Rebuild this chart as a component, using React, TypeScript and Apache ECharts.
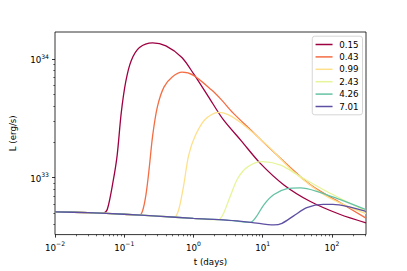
import React, { useEffect, useRef } from "react";
import * as echarts from "echarts";

// ---- data (t in days, L in erg/s) ----
const seriesNames = ["0.15", "0.43", "0.99", "2.43", "4.26", "7.01"];
const seriesColors = ["#9e0142", "#f46d43", "#fee08b", "#e6f598", "#66c2a5", "#5e4fa2"];

const t015 = [0.01, 0.03, 0.05, 0.057, 0.069, 0.079, 0.0905, 0.105, 0.126, 0.166, 0.257, 0.4, 0.68, 1.0, 1.64, 2.68, 4.9, 9.3, 20, 48, 129, 310];
const L015 = [5.14e32, 5.05e32, 5.01e32, 5.4e32, 9.27e32, 1.54e33, 3.51e33, 6.41e33, 9.68e33, 1.25e34, 1.37e34, 1.29e34, 1.03e34, 7.52e33, 4.82e33, 3.09e33, 2.04e33, 1.31e33, 8.71e32, 6.31e32, 4.9e32, 4.15e32];

const t043 = [0.01, 0.03, 0.1, 0.166, 0.185, 0.206, 0.229, 0.257, 0.302, 0.376, 0.493, 0.684, 1.0, 1.83, 2.54, 3.72, 6.76, 16.2, 48.3, 129, 310];
const L043 = [5.14e32, 5.05e32, 4.9e32, 4.81e32, 5.3e32, 7.18e32, 1.19e33, 2.25e33, 3.98e33, 5.82e33, 7.05e33, 7.74e33, 7.28e33, 5.47e33, 4.52e33, 3.51e33, 2.51e33, 1.54e33, 8.71e32, 6.17e32, 4.55e32];

const t099 = [0.01, 0.03, 0.1, 0.3, 0.53, 0.614, 0.724, 0.851, 1.06, 1.47, 2.28, 3.16, 4.9, 11.7, 28, 83, 310];
const L099 = [5.14e32, 5.05e32, 4.9e32, 4.73e32, 4.64e32, 5.4e32, 8.69e32, 1.54e33, 2.25e33, 3.09e33, 3.55e33, 3.4e33, 2.88e33, 1.86e33, 1.12e33, 6.97e32, 4.95e32];

const t243 = [0.01, 0.03, 0.1, 0.3, 1, 2.28, 2.68, 3.33, 4.37, 6.07, 9.9, 18.1, 34.8, 83, 310];
const L243 = [5.14e32, 5.05e32, 4.9e32, 4.73e32, 4.52e32, 4.41e32, 4.9e32, 6.76e32, 9.86e32, 1.23e33, 1.36e33, 1.27e33, 1.02e33, 7.66e32, 5.2e32];

const t426 = [0.01, 0.03, 0.1, 0.3, 1, 3, 6.6, 7.94, 10.5, 14.5, 22.5, 34.8, 60, 129, 310];
const L426 = [5.14e32, 5.05e32, 4.9e32, 4.73e32, 4.52e32, 4.37e32, 4.19e32, 4.61e32, 5.94e32, 7.18e32, 8.05e32, 8.17e32, 7.66e32, 6.53e32, 5.35e32];

const t701 = [0.01, 0.03, 0.1, 0.3, 1, 3, 6.76, 14.5, 19, 28, 43.3, 74.6, 103.5, 178, 310];
const L701 = [5.14e32, 5.05e32, 4.9e32, 4.73e32, 4.52e32, 4.37e32, 4.19e32, 3.98e32, 4.11e32, 4.75e32, 5.57e32, 5.94e32, 5.94e32, 5.65e32, 5.17e32];

const seriesT = [t015, t043, t099, t243, t426, t701];
const seriesL = [L015, L043, L099, L243, L426, L701];

// axis ranges and ticks
const xMin = 0.01;
const xMax = 310;
const yMin = 3.3e32;
const yMax = 1.69e34;
const xMajorExp = [-2, -1, 0, 1, 2];
const yMajorExp = [33, 34];
const minorMult = [2, 3, 4, 5, 6, 7, 8, 9];

const FONT = "DejaVu Sans";
const FS = 8.7;

function minorLogs(minV: number, maxV: number): number[] {
  const out: number[] = [];
  const lo = Math.floor(Math.log10(minV));
  const hi = Math.ceil(Math.log10(maxV));
  for (let e = lo; e <= hi; e++) {
    for (const m of minorMult) {
      const v = m * Math.pow(10, e);
      if (v >= minV && v <= maxV) out.push(Math.log10(v));
    }
  }
  return out;
}

const expLabel = (v: number) => {
  const e = Math.round(v);
  const s = e < 0 ? "\u2212" + Math.abs(e) : String(e);
  return "{b|10}{s|" + s + "}";
};

const rich = {
  b: { fontFamily: FONT, fontSize: FS, color: "#000", lineHeight: 11.5, verticalAlign: "bottom" },
  s: { fontFamily: FONT, fontSize: 6.1, color: "#000", lineHeight: 11.5, verticalAlign: "top" },
};

export default function App() {
  const ref = useRef<HTMLDivElement>(null);
  useEffect(() => {
    if (!ref.current) return;
    const chart = echarts.init(ref.current, null, { renderer: "svg" });
    const lxMin = Math.log10(xMin);
    const lxMax = Math.log10(xMax);
    const lyMin = Math.log10(yMin);
    const lyMax = Math.log10(yMax);
    const noLine = { show: false, onZero: false };
    const hidden = {
      axisLine: noLine,
      axisTick: { show: false },
      axisLabel: { show: false },
      splitLine: { show: false },
    };
    const tickLine = { color: "#000", width: 0.8 };
    const minorLine = { color: "#000", width: 0.6 };
    const option: any = {
      animation: false,
      backgroundColor: "#fff",
      grid: {
        left: 51,
        right: 41,
        top: 32,
        bottom: 34,
        show: true,
        borderColor: "#000",
        borderWidth: 0.8,
        backgroundColor: "transparent",
      },
      legend: {
        orient: "vertical",
        right: 44.5,
        top: 36.2,
        icon: "rect",
        itemWidth: 17,
        itemHeight: 1.5,
        itemGap: 2.4,
        padding: [3.3, 4, 3.3, 3.3],
        backgroundColor: "rgba(255,255,255,0.8)",
        borderColor: "#cccccc",
        borderWidth: 0.8,
        borderRadius: 2.5,
        textStyle: { fontFamily: FONT, fontSize: FS, color: "#000", lineHeight: 10, padding: [0, 0, 0, 1.6] },
        data: seriesNames,
      },
      xAxis: [
        { type: "log", min: xMin, max: xMax, ...hidden },
        {
          type: "value",
          min: lxMin,
          max: lxMax,
          position: "bottom",
          axisLine: noLine,
          splitLine: { show: false },
          axisTick: { show: true, length: 3, lineStyle: tickLine, customValues: xMajorExp },
          axisLabel: { show: true, margin: 6, customValues: xMajorExp, formatter: expLabel, rich },
          name: "t (days)",
          nameLocation: "middle",
          nameGap: 22,
          nameTextStyle: { fontFamily: FONT, fontSize: FS, color: "#000" },
        },
        {
          type: "value",
          min: lxMin,
          max: lxMax,
          position: "bottom",
          axisLine: noLine,
          splitLine: { show: false },
          axisLabel: { show: false },
          axisTick: { show: true, length: 1.7, lineStyle: minorLine, customValues: minorLogs(xMin, xMax) },
        },
      ],
      yAxis: [
        { type: "log", min: yMin, max: yMax, ...hidden },
        {
          type: "value",
          min: lyMin,
          max: lyMax,
          position: "left",
          axisLine: noLine,
          splitLine: { show: false },
          axisTick: { show: true, length: 3, lineStyle: tickLine, customValues: yMajorExp },
          axisLabel: { show: true, margin: 6, customValues: yMajorExp, formatter: expLabel, rich },
          name: "L (erg/s)",
          nameLocation: "middle",
          nameGap: 38,
          nameRotate: 90,
          nameTextStyle: { fontFamily: FONT, fontSize: FS, color: "#000" },
        },
        {
          type: "value",
          min: lyMin,
          max: lyMax,
          position: "left",
          axisLine: noLine,
          splitLine: { show: false },
          axisLabel: { show: false },
          axisTick: { show: true, length: 1.7, lineStyle: minorLine, customValues: minorLogs(yMin, yMax) },
        },
      ],
      series: seriesNames.map((name, i) => ({
        name,
        type: "line",
        xAxisIndex: 0,
        yAxisIndex: 0,
        showSymbol: false,
        symbol: "none",
        smooth: 0.3,
        color: seriesColors[i],
        lineStyle: { color: seriesColors[i], width: 1.3 },
        data: seriesT[i].map((t, j) => [t, seriesL[i][j]]),
      })),
    };
    chart.setOption(option);
    return () => chart.dispose();
  }, []);
  return (
    <div
      ref={ref}
      style={{ position: "absolute", left: 0, top: 0, width: 407, height: 271, background: "#fff" }}
    />
  );
}
